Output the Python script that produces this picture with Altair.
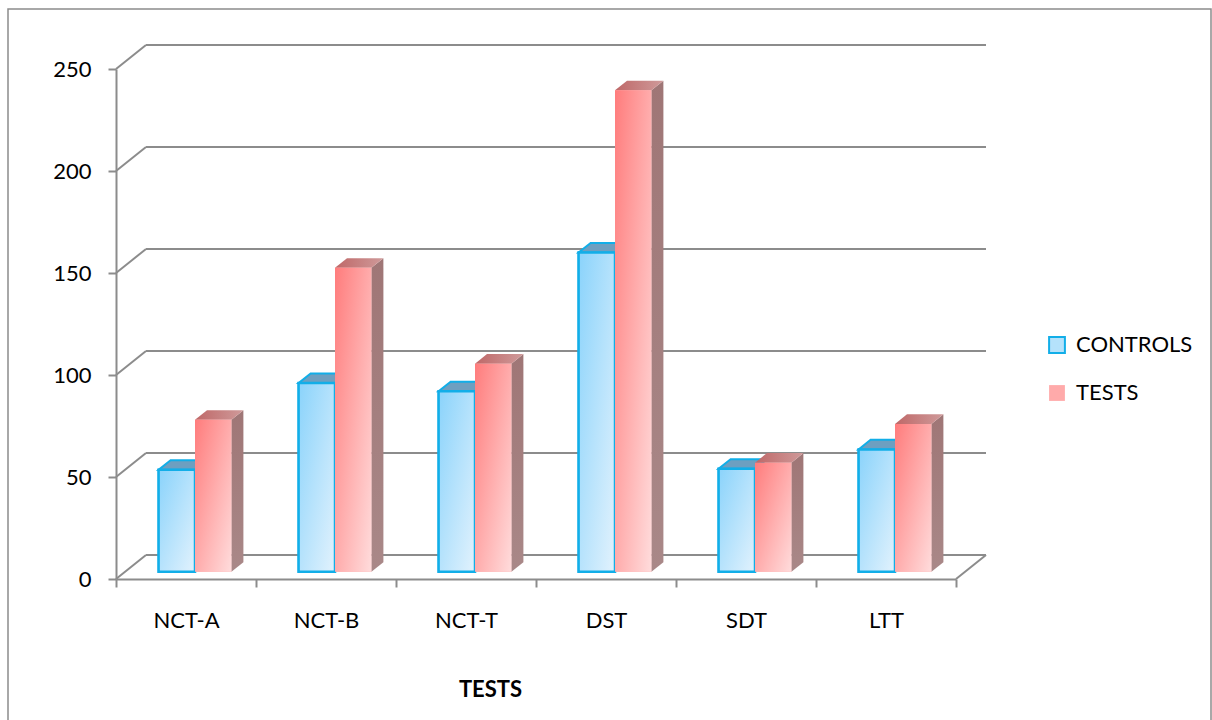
import altair as alt
import pandas as pd

# ---- data -------------------------------------------------------------
tests = ["NCT-A", "NCT-B", "NCT-T", "DST", "SDT", "LTT"]
series = ["CONTROLS", "TESTS"]
controls = [50, 92.5, 88.5, 156.5, 50.5, 60]
patients = [74.5, 149, 102, 236, 53.5, 72.5]
y_ticks = [0, 50, 100, 150, 200, 250]

# ---- 3-D geometry (in scale units) -------------------------------------
W, H = 840, 510
N = len(tests)
Y_MAX = 250
PX_X = W / N          # pixels per category
PX_Y = H / Y_MAX      # pixels per value unit
DX = 30 / PX_X        # depth of the box, horizontal part
DY = 24 / PX_Y        # depth of the box, vertical part
D0, D1 = 0.3, 0.7     # front/back depth of the columns
SLOTS = {"CONTROLS": (0.24, 0.5), "TESTS": (0.5, 0.76)}

GRID = "#8c8c8c"
BLUE_EDGE = "#12aee8"

fronts, tops, sides = [], [], []
for i, t in enumerate(tests):
    for s, vals in zip(series, [controls, patients]):
        v = vals[i]
        lo, hi = SLOTS[s]
        bid = f"{t}-{s}"
        fronts.append(dict(bar=bid, series=s, x=i + lo + D0 * DX, x2=i + hi + D0 * DX,
                           y=D0 * DY, y2=v + D0 * DY))
        for d in (D0, D1):
            tops.append(dict(bar=bid, series=s, y=v + d * DY,
                             x=i + lo + d * DX, x2=i + hi + d * DX))
            sides.append(dict(bar=bid, series=s, x=i + hi + d * DX,
                              y=d * DY, y2=v + d * DY))

fronts = pd.DataFrame(fronts)
tops = pd.DataFrame(tops)
sides = pd.DataFrame(sides)

# wall and floor lines
walls = []
for v in y_ticks:
    walls.append(dict(x=0, y=v, x2=DX, y2=v + DY))
    walls.append(dict(x=DX, y=v + DY, x2=N + DX, y2=v + DY))
walls.append(dict(x=N, y=0, x2=N + DX, y2=DY))
walls = pd.DataFrame(walls)

xs = alt.Scale(domain=[0, N], nice=False, zero=False)
ys = alt.Scale(domain=[0, Y_MAX], nice=False)

label_expr = "[" + ",".join(f"'{t}'" for t in tests) + ",''][datum.value]"
x_axis = alt.Axis(values=list(range(N + 1)), labelExpr=label_expr, labelOffset=PX_X / 2,
                  labelFlush=False, labelBound=False,
                  grid=False, domainColor=GRID, domainWidth=2, tickColor=GRID, tickWidth=2,
                  tickSize=8, labelFontSize=22, labelColor="black", labelPadding=23,
                  labelFont="Lato", title="TESTS", titleFont="Lato", titleFontSize=22,
                  titleFontWeight="bold", titleColor="black", titleX=374, titleY=110,
                  titleBaseline="middle", titleAlign="center")
y_axis = alt.Axis(values=y_ticks, grid=False, domainColor=GRID, domainWidth=2,
                  tickColor=GRID, tickWidth=2, tickSize=8, labelFontSize=22,
                  labelColor="black", labelPadding=17, labelFont="Lato",
                  labelFlush=False, title=None)

frame = alt.Chart(pd.DataFrame({"a": [0]})).mark_rect(
    fill=None, stroke=GRID, strokeWidth=1.5
).encode(x=alt.value(-108), x2=alt.value(1095), y=alt.value(-60), y2=alt.value(700))

wall_lines = alt.Chart(walls).mark_rule(color=GRID, strokeWidth=2).encode(
    x=alt.X("x:Q", scale=xs, axis=x_axis), x2="x2:Q",
    y=alt.Y("y:Q", scale=ys, axis=y_axis), y2="y2:Q")

# solid faces carrying the legend (covered by the shaded faces)
legend_faces = alt.Chart(fronts).mark_rect(strokeWidth=2).encode(
    x="x:Q", x2="x2:Q", y="y:Q", y2="y2:Q",
    fill=alt.Fill("series:N", scale=alt.Scale(domain=series, range=["#b5e2fb", "#ffaaaa"]),
                  legend=alt.Legend(title=None, orient="none", legendX=930, legendY=265,
                                    symbolType="square", symbolSize=250,
                                    symbolStrokeWidth=2, labelFontSize=22,
                                    labelFont="Lato", labelColor="black",
                                    labelOffset=8, rowPadding=24)),
    stroke=alt.Stroke("series:N", scale=alt.Scale(domain=series,
                                                  range=[BLUE_EDGE, "transparent"]))
)

def grad(c0, c1):
    return alt.LinearGradient(gradient="linear", x1=0, y1=0, x2=1, y2=1,
                              stops=[alt.GradientStop(color=c0, offset=0),
                                     alt.GradientStop(color=c1, offset=1)])

def hgrad(c0, c1):
    return alt.LinearGradient(gradient="linear", x1=0, y1=0, x2=1, y2=0,
                              stops=[alt.GradientStop(color=c0, offset=0),
                                     alt.GradientStop(color=c1, offset=1)])

def vgrad(c0, c1):
    return alt.LinearGradient(gradient="linear", x1=0, y1=0, x2=0, y2=1,
                              stops=[alt.GradientStop(color=c0, offset=0),
                                     alt.GradientStop(color=c1, offset=1)])

blue_top = alt.Chart(tops[tops.series == "CONTROLS"]).mark_area(
    orient="horizontal", fill="#6e9fc0", stroke=BLUE_EDGE, strokeWidth=2
).encode(y="y:Q", x="x:Q", x2="x2:Q", detail="bar:N")

blue_front = alt.Chart(fronts[fronts.series == "CONTROLS"]).mark_rect(
    fill=grad("#8ad3fb", "#e2f2fd"), stroke=BLUE_EDGE, strokeWidth=2.5
).encode(x="x:Q", x2="x2:Q", y="y:Q", y2="y2:Q")

red_side = alt.Chart(sides[sides.series == "TESTS"]).mark_area(
    orient="vertical", fill=vgrad("#9f7676", "#a98888")
).encode(x="x:Q", y="y:Q", y2="y2:Q", detail="bar:N")

red_top = alt.Chart(tops[tops.series == "TESTS"]).mark_area(
    orient="horizontal", fill=hgrad("#bf6868", "#cf9a9a")
).encode(y="y:Q", x="x:Q", x2="x2:Q", detail="bar:N")

red_front = alt.Chart(fronts[fronts.series == "TESTS"]).mark_rect(
    fill=grad("#ff7c7c", "#ffdcdc")
).encode(x="x:Q", x2="x2:Q", y="y:Q", y2="y2:Q")

chart = alt.layer(
    frame, wall_lines, legend_faces, blue_top, blue_front, red_side, red_top, red_front
).properties(
    width=W, height=H,
    background="white",
    autosize=alt.AutoSizeParams(type="none"),
    padding={"left": 116, "top": 69, "right": 1212 - 116 - W, "bottom": 720 - 69 - H},
).configure_view(strokeWidth=0, stroke="transparent")

chart.save("out.html", embed_options={"renderer": "svg", "actions": False})
